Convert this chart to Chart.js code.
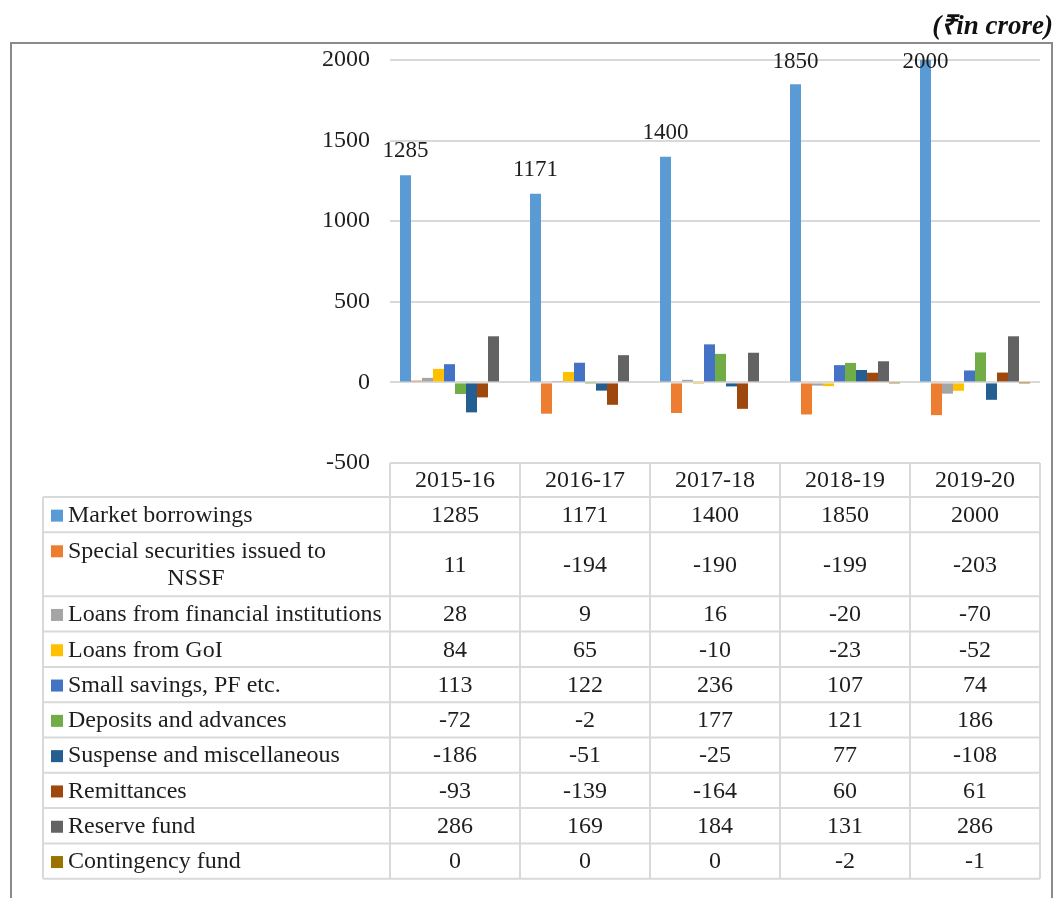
<!DOCTYPE html>
<html>
<head>
<meta charset="utf-8">
<title>Public debt receipts by component</title>
<script src="https://cdn.jsdelivr.net/npm/chart.js"></script>
<style>
  body { margin: 0; background: #fff; }
</style>
</head>
<body>
<canvas id="debtChart" width="1055" height="898"></canvas>
<script>
// data (Rs in crore)
const years = ['2015-16', '2016-17', '2017-18', '2018-19', '2019-20'];
const seriesNames = [
    'Market borrowings',
    'Special securities issued to\nNSSF',
    'Loans from financial institutions',
    'Loans from GoI',
    'Small savings, PF etc.',
    'Deposits and advances',
    'Suspense and miscellaneous',
    'Remittances',
    'Reserve fund',
    'Contingency fund'
];
const marketBorrowings   = [1285, 1171, 1400, 1850, 2000];
const specialSecurities  = [11, -194, -190, -199, -203];
const loansFinancial     = [28, 9, 16, -20, -70];
const loansGoI           = [84, 65, -10, -23, -52];
const smallSavings       = [113, 122, 236, 107, 74];
const depositsAdvances   = [-72, -2, 177, 121, 186];
const suspenseMisc       = [-186, -51, -25, 77, -108];
const remittances        = [-93, -139, -164, 60, 61];
const reserveFund        = [286, 169, 184, 131, 286];
const contingencyFund    = [0, 0, 0, -2, -1];
const yTicks = [-500, 0, 500, 1000, 1500, 2000];

const seriesValues = [marketBorrowings, specialSecurities, loansFinancial, loansGoI, smallSavings,
    depositsAdvances, suspenseMisc, remittances, reserveFund, contingencyFund];
const seriesColors = ['#5B9BD5', '#ED7D31', '#A5A5A5', '#FFC000', '#4472C4',
    '#70AD47', '#255E91', '#9E480E', '#636363', '#997300'];

const serif = '"Liberation Serif", "Times New Roman", serif';
const textColor = '#1e1e1e';
const lineColor = '#d9d9d9';

// table geometry
const tableLeft = 43;
const headerH = 34;
const rowH = 35.3;
const wrapRowH = 64;

// outer frame, unit note
const framePlugin = {
    id: 'frame',
    beforeDraw(chart) {
        const ctx = chart.ctx;
        ctx.save();
        ctx.strokeStyle = '#8a8a8a';
        ctx.lineWidth = 2;
        ctx.beginPath();
        ctx.moveTo(11, 898);
        ctx.lineTo(11, 43);
        ctx.lineTo(1052, 43);
        ctx.lineTo(1052, 898);
        ctx.stroke();
        ctx.fillStyle = '#111';
        ctx.font = 'italic bold 27px ' + serif;
        ctx.textAlign = 'right';
        ctx.textBaseline = 'middle';
        ctx.fillText('(\u20B9in crore)', 1053, 27);
        ctx.restore();
    }
};

// value labels on the market borrowings bars
const barLabels = {
    id: 'barLabels',
    afterDatasetsDraw(chart) {
        const ctx = chart.ctx;
        const meta = chart.getDatasetMeta(0);
        ctx.save();
        ctx.fillStyle = textColor;
        ctx.font = '23px ' + serif;
        ctx.textAlign = 'center';
        ctx.textBaseline = 'middle';
        meta.data.forEach((bar, i) => {
            const y = Math.max(bar.y - 24, chart.chartArea.top + 2);
            ctx.fillText(String(chart.data.datasets[0].data[i]), bar.x, y);
        });
        ctx.restore();
    }
};

// data table below the plot
const dataTable = {
    id: 'dataTable',
    afterDraw(chart) {
        const ctx = chart.ctx;
        const area = chart.chartArea;
        const xs = chart.scales.x;
        const colW = (area.right - area.left) / years.length;
        const top = area.bottom;
        const bodyTop = top + headerH;

        const rowTops = [];
        let y = bodyTop;
        chart.data.datasets.forEach(ds => {
            rowTops.push(y);
            y += ds.label.includes('\n') ? wrapRowH : rowH;
        });
        const bottom = y;

        ctx.save();
        ctx.strokeStyle = lineColor;
        ctx.lineWidth = 2;
        ctx.beginPath();
        ctx.moveTo(area.left, top);
        ctx.lineTo(area.right, top);
        rowTops.concat([bottom]).forEach(ry => {
            ctx.moveTo(tableLeft, ry);
            ctx.lineTo(area.right, ry);
        });
        ctx.moveTo(tableLeft, bodyTop);
        ctx.lineTo(tableLeft, bottom);
        for (let c = 0; c <= years.length; c++) {
            const cx = area.left + c * colW;
            ctx.moveTo(cx, top);
            ctx.lineTo(cx, bottom);
        }
        ctx.stroke();

        ctx.fillStyle = textColor;
        ctx.font = '24px ' + serif;
        ctx.textBaseline = 'middle';
        ctx.textAlign = 'center';
        years.forEach((yr, i) => {
            ctx.fillText(yr, xs.getPixelForValue(i), top + headerH / 2 + 1);
        });

        chart.data.datasets.forEach((ds, r) => {
            const h = ds.label.includes('\n') ? wrapRowH : rowH;
            const mid = rowTops[r] + h / 2 + 1;
            const lines = ds.label.split('\n');
            // legend key
            const keyY = lines.length > 1 ? mid - 14 : mid;
            ctx.fillStyle = ds.backgroundColor;
            ctx.fillRect(51, keyY - 6, 12, 12);
            ctx.fillStyle = textColor;
            ctx.textAlign = 'left';
            if (lines.length > 1) {
                ctx.fillText(lines[0], 68, mid - 14);
                ctx.textAlign = 'center';
                ctx.fillText(lines[1], 196, mid + 13);
            } else {
                ctx.fillText(lines[0], 68, mid);
            }
            ctx.textAlign = 'center';
            ds.data.forEach((v, i) => {
                ctx.fillText(String(v), xs.getPixelForValue(i), mid);
            });
        });
        ctx.restore();
    }
};

const ctx = document.getElementById('debtChart').getContext('2d');
new Chart(ctx, {
    type: 'bar',
    data: {
        labels: years,
        datasets: seriesNames.map((name, i) => ({
            label: name,
            data: seriesValues[i],
            backgroundColor: seriesColors[i],
            borderWidth: 0,
            barPercentage: 1,
            categoryPercentage: 0.846
        }))
    },
    options: {
        responsive: false,
        animation: false,
        layout: {
            padding: { top: 60, right: 15, bottom: 435, left: 0 }
        },
        plugins: {
            legend: { display: false },
            tooltip: { enabled: false }
        },
        scales: {
            x: { display: false },
            y: {
                min: -500,
                max: 2000,
                afterFit(scale) { scale.width = 390; },
                afterBuildTicks(scale) { scale.ticks = yTicks.map(v => ({ value: v })); },
                border: { display: false },
                grid: { color: lineColor, lineWidth: 2, drawTicks: false },
                ticks: {
                    padding: 20,
                    color: textColor,
                    font: { family: serif, size: 24 },
                    callback: v => String(v)
                }
            }
        }
    },
    plugins: [framePlugin, barLabels, dataTable]
});
</script>
</body>
</html>
